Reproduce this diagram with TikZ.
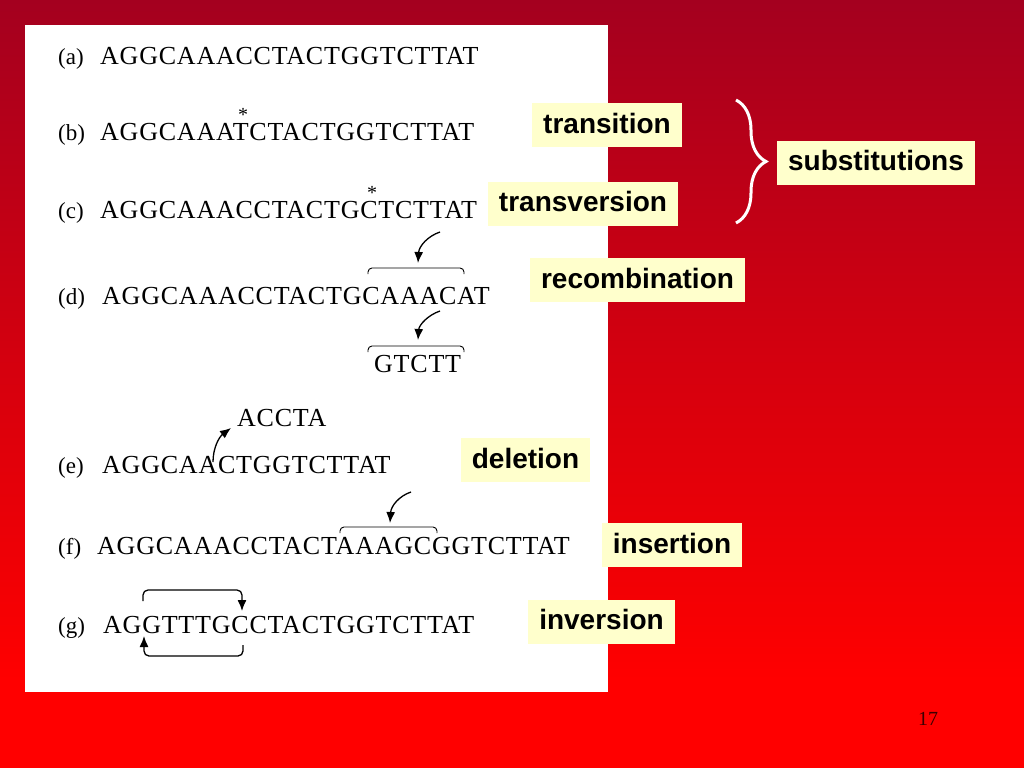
\documentclass[tikz,border=0pt]{standalone}
\usepackage{fontspec}
\setmainfont{Liberation Serif}
\setsansfont{Liberation Sans}
\newfontfamily\seqfont[LetterSpace=3]{Liberation Serif}
\usepackage{tikz}
\usetikzlibrary{arrows.meta, decorations.pathreplacing}
\definecolor{slidetop}{RGB}{164,0,31}
\definecolor{slidered}{RGB}{255,0,0}
\definecolor{notefill}{RGB}{255,255,204}
\definecolor{pagenum}{RGB}{60,0,0}

\begin{document}
\begin{tikzpicture}[
    x=1pt, y=-1pt,
    seq/.style={anchor=base west, inner sep=0pt, font=\seqfont\fontsize{26}{30}\selectfont},
    tag/.style={anchor=base west, inner sep=0pt, font=\fontsize{23}{28}\selectfont},
    star/.style={anchor=base, inner sep=0pt, font=\fontsize{20}{22}\selectfont},
    note/.style={fill=notefill, inner xsep=11pt, inner ysep=9pt, text height=21pt, text depth=5pt, font=\sffamily\bfseries\fontsize{28}{32}\selectfont},
    hook/.style={line width=0.9pt, rounded corners=4pt},
    arrow/.style={-{Latex[length=11pt, width=9pt]}, line width=1.3pt}
]
\useasboundingbox (0,0) rectangle (1024,768);

\fill[top color=slidetop, bottom color=slidered] (0,0) rectangle (1024,680);
\fill[slidered] (0,680) rectangle (1024,768);
\fill[white] (25,25) rectangle (608,692);

\node[tag] (tagA) at (58,64) {(a)};
\node[tag] (tagB) at (58,140) {(b)};
\node[tag] (tagC) at (58,218) {(c)};
\node[tag] (tagD) at (58,304) {(d)};
\node[tag] (tagE) at (58,473) {(e)};
\node[tag] (tagF) at (58,554) {(f)};
\node[tag] (tagG) at (58,633) {(g)};

\node[seq] (seqA) at (100,64) {AGGCAAACCTACTGGTCTTAT};
\node[seq] (seqB) at (100,140) {AGGCAAATCTACTGGTCTTAT};
\node[seq] (seqC) at (100,218) {AGGCAAACCTACTGCTCTTAT};
\node[seq] (seqD) at (102,304) {AGGCAAACCTACTGCAAACAT};
\node[seq] (donor) at (374,372) {GTCTT};
\node[seq] (lost) at (237,426) {ACCTA};
\node[seq] (seqE) at (102,473) {AGGCAACTGGTCTTAT};
\node[seq] (seqF) at (97,554) {AGGCAAACCTACTAAAGCGGTCTTAT};
\node[seq] (seqG) at (103,633) {AGGTTTGCCTACTGGTCTTAT};

\node[star] (starB) at (243,121) {*};
\node[star] (starC) at (372,199) {*};

\draw[hook] (368,274) -- (368,268) -- (464,268) -- (464,274);
\draw[hook] (368,352) -- (368,346) -- (464,346) -- (464,352);
\draw[hook] (340,533) -- (340,527) -- (437,527) -- (437,533);

\draw[arrow] (440,232) .. controls (428,236) and (419,246) .. (418,263);
\draw[arrow] (440,311) .. controls (428,315) and (419,325) .. (418,340);
\draw[arrow] (411,492) .. controls (399,496) and (391,506) .. (390,523);
\draw[arrow] (213,462) .. controls (213,448) and (219,437) .. (231,428);
\draw[arrow, rounded corners=5pt] (143,601) -- (143,590) -- (242,590) -- (242,611);
\draw[arrow, rounded corners=5pt] (243,645) -- (243,656) -- (144,656) -- (144,636);

\node[note] (transition) at (607,125) {transition};
\node[note] (transversion) at (583,203.5) {transversion};
\node[note] (substitutions) at (876,162.5) {substitutions};
\node[note] (recombination) at (637.5,280) {recombination};
\node[note] (deletion) at (525.5,460) {deletion};
\node[note] (insertion) at (672,545) {insertion};
\node[note] (inversion) at (601.5,621.5) {inversion};

\draw[white, line width=3pt, decorate, decoration={brace, amplitude=30pt}] (736,100) -- (736,223);

\node[anchor=base west, inner sep=0pt, text=pagenum, font=\fontsize{20}{24}\selectfont] (page) at (918,725) {17};

\end{tikzpicture}
\end{document}
